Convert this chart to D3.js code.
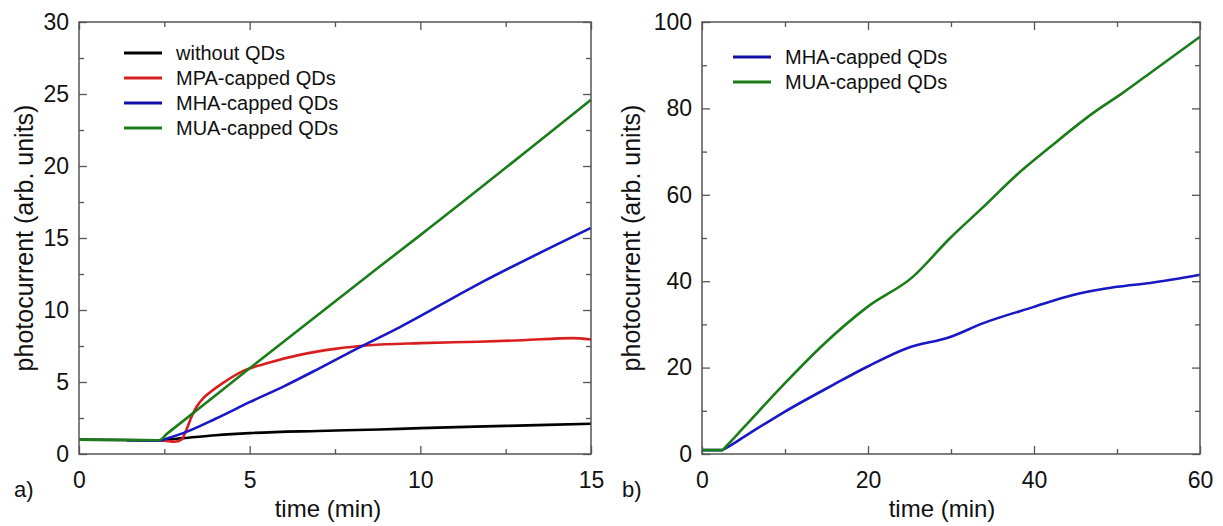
<!DOCTYPE html>
<html lang="en">
<head>
<meta charset="UTF-8">
<script src="https://d3js.org/d3.v7.min.js"></script>
<title>Photocurrent vs time</title>
<style>
  body { margin: 0; background: #fff; }
  text { font-family: Arial, "Liberation Sans", sans-serif; fill: #111; }
  .frame { fill: none; stroke: #555; stroke-width: 1.5px; }
  .tick line { stroke: #555; stroke-width: 1.3px; }
  .domain { display: none; }
  .curve { fill: none; stroke-width: 2.6px; stroke-linejoin: round; }
</style>
</head>
<body>
<div id="container"></div>
<script>
// ---- data: [time (min), photocurrent (arb. units)] ----
var aBlack = [[0, 1.0], [2.3, 0.95], [3.05, 1.1], [4, 1.3], [5, 1.45], [7, 1.6], [8.8, 1.7], [10, 1.8], [12.5, 1.95], [15, 2.1]];
var aRed = [[1.4, 0.95], [2.5, 0.92], [2.8, 0.85], [3.0, 1.0], [3.15, 1.7], [3.3, 2.6], [3.45, 3.3], [3.65, 3.9], [3.85, 4.3],
            [4.2, 4.9], [4.8, 5.75], [5.5, 6.3], [6.5, 6.9], [7.5, 7.3], [8.5, 7.55], [10, 7.7], [11.7, 7.8], [13, 7.9], [14.45, 8.05], [15, 7.95]];
var aBlue = [[1.4, 0.95], [2.33, 0.92], [2.6, 1.1], [3.05, 1.45], [4, 2.45], [5, 3.6], [6, 4.7], [7, 5.9], [8.13, 7.3], [9.39, 8.8],
             [11.7, 11.8], [15, 15.7]];
var aGreen = [[0, 1.0], [2.33, 0.95], [2.6, 1.45], [5, 5.95], [8.8, 13.0], [10, 15.2], [15, 24.6]];

var bBlue = [[0, 0.9], [2.4, 0.9], [3, 1.5], [5, 3.9], [9.8, 9.6], [15.8, 16.0], [19.9, 20.2], [24.7, 24.5], [29.9, 27.1], [33.9, 30.3],
             [39.9, 34.0], [44.7, 36.8], [50, 38.7], [54, 39.6], [60, 41.5]];
var bGreen = [[0, 0.9], [2.4, 0.9], [3, 2.0], [5, 6.1], [9.8, 16.0], [14.6, 25.3], [19.9, 34.0], [25.4, 41.0], [29.9, 50.0], [33.9, 57.2],
              [37.9, 64.6], [41.9, 71.0], [47.1, 78.9], [50.7, 83.6], [54, 88.2], [60, 96.6]];

var aNames = ["without QDs", "MPA-capped QDs", "MHA-capped QDs", "MUA-capped QDs"];
var bNames = ["MHA-capped QDs", "MUA-capped QDs"];

var aXTicks = [0, 5, 10, 15], aXMinor = [2.5, 7.5, 12.5];
var aYTicks = [0, 5, 10, 15, 20, 25, 30], aYMinor = [2.5, 7.5, 12.5, 17.5, 22.5, 27.5];
var bXTicks = [0, 20, 40, 60], bXMinor = [10, 30, 50];
var bYTicks = [0, 20, 40, 60, 80, 100], bYMinor = [10, 30, 50, 70, 90];

var colors = { black: "#000000", red: "#d81e1e", blue: "#1818c4", green: "#1a7d1a" };

var svg = d3.select("#container").append("svg")
  .attr("width", 1223)
  .attr("height", 526);

function drawPanel(p) {
  var x = d3.scaleLinear().domain(p.xDomain).range([p.left, p.right]);
  var y = d3.scaleLinear().domain(p.yDomain).range([p.bottom, p.top]);
  var g = svg.append("g");

  // ticks on all four sides, pointing inward
  function ticks(axis, tr, values, size, labels) {
    var a = axis.tickValues(values).tickSizeInner(-size).tickSizeOuter(0);
    if (!labels) a.tickFormat("");
    return g.append("g").attr("transform", tr).call(a);
  }
  var bx = ticks(d3.axisBottom(x).tickPadding(18), "translate(0," + p.bottom + ")", p.xTicks, 8, true);
  ticks(d3.axisBottom(x), "translate(0," + p.bottom + ")", p.xMinor, 5, false);
  ticks(d3.axisTop(x), "translate(0," + p.top + ")", p.xTicks, 8, false);
  ticks(d3.axisTop(x), "translate(0," + p.top + ")", p.xMinor, 5, false);
  var ly = ticks(d3.axisLeft(y).tickPadding(10), "translate(" + p.left + ",0)", p.yTicks, 8, true);
  ticks(d3.axisLeft(y), "translate(" + p.left + ",0)", p.yMinor, 5, false);
  ticks(d3.axisRight(y), "translate(" + p.right + ",0)", p.yTicks, 8, false);
  ticks(d3.axisRight(y), "translate(" + p.right + ",0)", p.yMinor, 5, false);
  bx.selectAll("text").style("font-size", "23px").style("fill", "#111");
  ly.selectAll("text").style("font-size", "23px").style("fill", "#111");

  // curves
  var line = d3.line()
    .curve(d3.curveMonotoneX)
    .x(function (d) { return x(d[0]); })
    .y(function (d) { return y(d[1]); });
  p.series.forEach(function (s) {
    g.append("path").datum(s.data)
      .attr("class", "curve")
      .attr("stroke", s.color)
      .attr("d", line);
  });

  g.append("rect").attr("class", "frame")
    .attr("x", p.left).attr("y", p.top)
    .attr("width", p.right - p.left).attr("height", p.bottom - p.top);

  // legend
  var lg = g.append("g").selectAll("g")
    .data(p.legend.items).enter().append("g")
    .attr("transform", function (d, i) { return "translate(0," + (p.legend.y + i * p.legend.rowH) + ")"; });
  lg.append("line")
    .attr("x1", p.legend.x).attr("x2", p.legend.x + 38)
    .attr("stroke", function (d) { return d.color; })
    .attr("stroke-width", 3);
  lg.append("text")
    .attr("x", p.legend.x + 52).attr("dy", "0.35em")
    .style("font-size", "20px")
    .text(function (d) { return d.name; });

  // axis titles
  g.append("text")
    .attr("x", p.xTitleX).attr("y", 517)
    .attr("text-anchor", "middle")
    .style("font-size", "24px")
    .text("time (min)");
  g.append("text")
    .attr("transform", "translate(" + p.yTitleX + "," + (p.top + p.bottom) / 2 + ") rotate(-90)")
    .attr("text-anchor", "middle")
    .style("font-size", "25px")
    .text("photocurrent (arb. units)");
  g.append("text")
    .attr("x", p.tagX).attr("y", 497)
    .style("font-size", "22px")
    .text(p.tag);
}

drawPanel({
  left: 79, right: 591, top: 22, bottom: 454,
  xDomain: [0, 15], yDomain: [0, 30],
  xTicks: aXTicks, xMinor: aXMinor, yTicks: aYTicks, yMinor: aYMinor,
  series: [
    { data: aBlack, color: colors.black },
    { data: aRed, color: colors.red },
    { data: aBlue, color: colors.blue },
    { data: aGreen, color: colors.green }
  ],
  legend: {
    x: 124, y: 53, rowH: 25,
    items: [
      { name: aNames[0], color: colors.black },
      { name: aNames[1], color: colors.red },
      { name: aNames[2], color: "#1010a8" },
      { name: aNames[3], color: colors.green }
    ]
  },
  xTitleX: 328, yTitleX: 33, tag: "a)", tagX: 14
});

drawPanel({
  left: 702, right: 1200, top: 22, bottom: 454,
  xDomain: [0, 60], yDomain: [0, 100],
  xTicks: bXTicks, xMinor: bXMinor, yTicks: bYTicks, yMinor: bYMinor,
  series: [
    { data: bBlue, color: colors.blue },
    { data: bGreen, color: colors.green }
  ],
  legend: {
    x: 733, y: 57, rowH: 25,
    items: [
      { name: bNames[0], color: "#1010a8" },
      { name: bNames[1], color: colors.green }
    ]
  },
  xTitleX: 942, yTitleX: 640, tag: "b)", tagX: 622
});
</script>
</body>
</html>
